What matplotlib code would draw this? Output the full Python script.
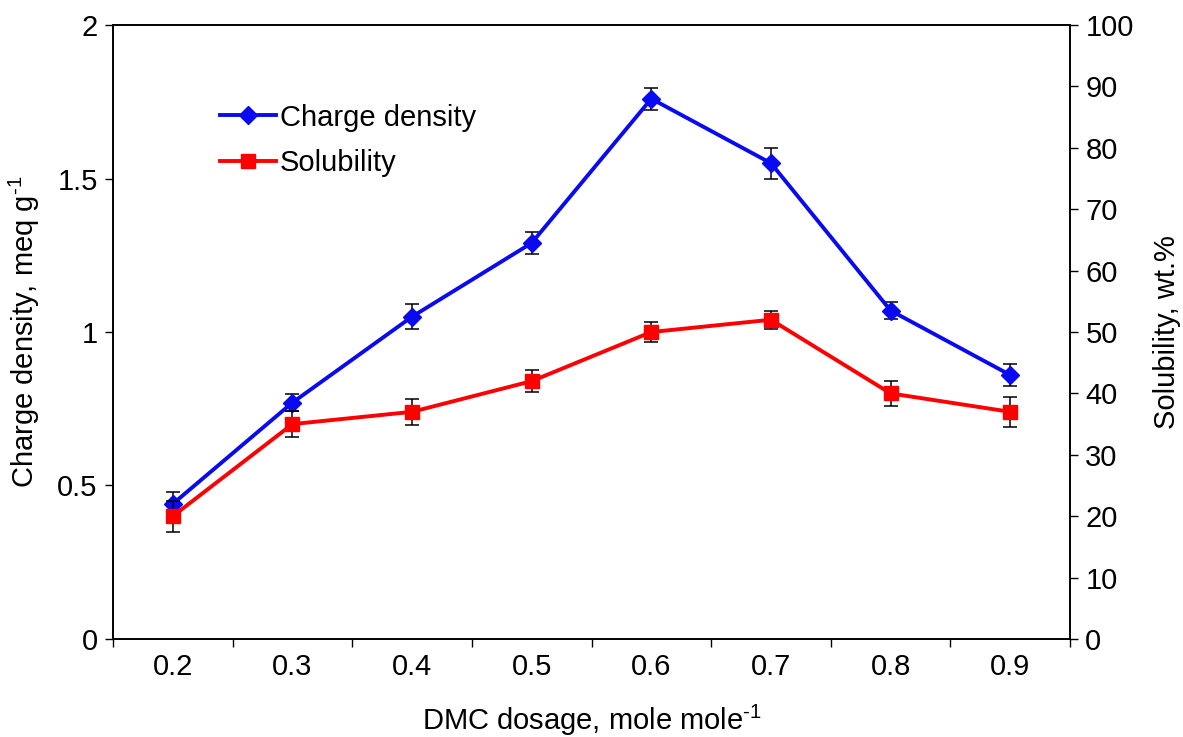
import numpy as np
import matplotlib.pyplot as plt

plt.rcParams['font.family'] = ['Liberation Sans', 'DejaVu Sans']
plt.rcParams['mathtext.fontset'] = 'custom'
plt.rcParams['mathtext.rm'] = 'Liberation Sans'
plt.rcParams['mathtext.default'] = 'rm'

BLUE = '#0A0AF0'
RED = '#FF0000'
FS = 21

# DMC dosage (mole/mole)
dosage = ['0.2', '0.3', '0.4', '0.5', '0.6', '0.7', '0.8', '0.9']
charge_density = [0.44, 0.77, 1.05, 1.29, 1.76, 1.55, 1.07, 0.86]
charge_err = [0.04, 0.028, 0.04, 0.035, 0.036, 0.05, 0.028, 0.036]
solubility = [20, 35, 37, 42, 50, 52, 40, 37]
solubility_err = [2.5, 2.1, 2.1, 1.8, 1.6, 1.5, 2.1, 2.4]

x = np.arange(len(dosage))

fig = plt.figure(figsize=(11.83, 7.37), dpi=100)
ax = fig.add_axes([0.0955, 0.133, 0.809, 0.833])
ax2 = ax.twinx()

ax.errorbar(x, charge_density, yerr=charge_err, fmt='none', ecolor='black',
            elinewidth=1.1, capsize=5, capthick=1.1, zorder=2)
l1, = ax.plot(x, charge_density, color=BLUE, lw=2.8, marker='D', markersize=9,
              label='Charge density', zorder=3)

ax2.errorbar(x, solubility, yerr=solubility_err, fmt='none', ecolor='black',
             elinewidth=1.1, capsize=5, capthick=1.1, zorder=2)
l2, = ax2.plot(x, solubility, color=RED, lw=2.8, marker='s', markersize=10.5,
               label='Solubility', zorder=3)

ax.set_xlim(-0.5, len(dosage) - 0.5)
ax.set_ylim(0, 2)
ax2.set_ylim(0, 100)

ax.set_xticks(x)
ax.set_xticklabels(dosage)
ax.set_xticks(np.arange(-0.5, len(dosage)), minor=True)
ax.tick_params(axis='x', which='major', length=0, pad=10, labelsize=FS)
ax.tick_params(axis='x', which='minor', length=6, width=1, direction='out')

ax.set_yticks([0, 0.5, 1, 1.5, 2])
ax.set_yticklabels(['0', '0.5', '1', '1.5', '2'])
ax.tick_params(axis='y', length=6, width=1, direction='out', labelsize=FS, pad=5)
ax2.set_yticks(np.arange(0, 101, 10))
ax2.tick_params(axis='y', length=6, width=1, direction='out', labelsize=FS, pad=5)

for a in (ax, ax2):
    for s in a.spines.values():
        s.set_linewidth(1.2)

ax.set_xlabel(r'DMC dosage, mole mole$^{\text{-1}}$', fontsize=FS, labelpad=16)
ax.set_ylabel(r'Charge density, meq g$^{\text{-1}}$', fontsize=FS)
ax.yaxis.set_label_coords(-0.074, 0.5)
ax2.set_ylabel('Solubility, wt.%', fontsize=FS, labelpad=14)

ax2.legend(handles=[l1, l2], loc='upper left', bbox_to_anchor=(0.112, 0.872),
           frameon=False, fontsize=FS, handlelength=1.9, handletextpad=0.15,
           labelspacing=0.6, borderpad=0, borderaxespad=0)

fig.savefig('out.png', dpi=100)
